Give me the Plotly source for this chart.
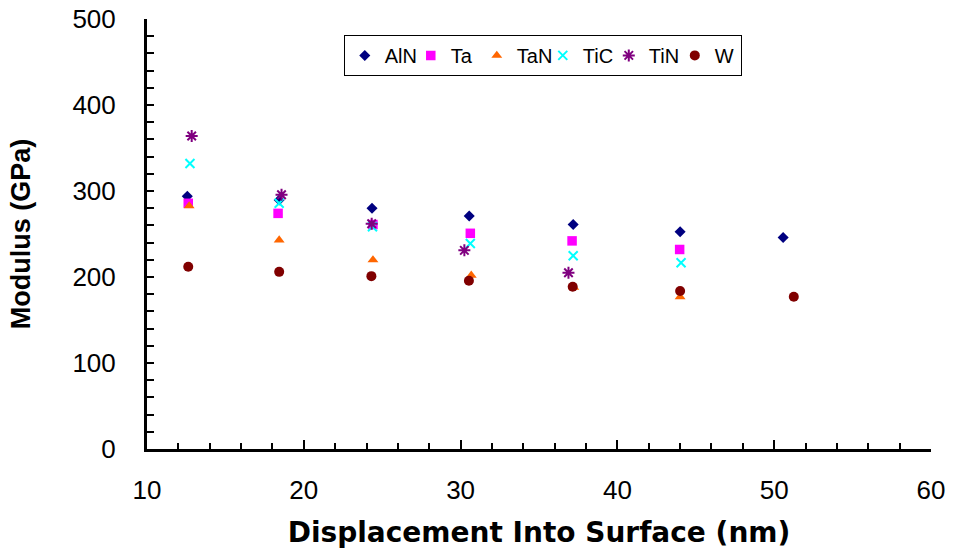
import plotly.graph_objects as go

alN_x = [12.57, 18.43, 24.35, 30.55, 37.18, 44.0, 50.57]
alN_y = [294, 289.5, 280, 271, 261, 252.7, 246]
ta_x = [12.63, 18.36, 24.41, 30.62, 37.11, 43.97]
ta_y = [285.7, 274, 261, 250.8, 242, 232]
taN_x = [12.69, 18.43, 24.41, 30.68, 37.22, 44.0]
taN_y = [282.6, 243, 219.8, 202, 188, 177]
tiC_x = [12.74, 18.43, 24.38, 30.62, 37.18, 44.06]
tiC_y = [332, 285.7, 258.5, 239, 224.8, 216.6]
tiN_x = [12.85, 18.58, 24.33, 30.24, 36.88]
tiN_y = [364, 295.7, 262, 231, 205]
w_x = [12.63, 18.43, 24.31, 30.53, 37.15, 44.0, 51.25]
w_y = [212, 206, 201, 195.7, 188.7, 183.7, 177]

series = [
    ("AlN", alN_x, alN_y, "diamond", "#000080", 8.5, None),
    ("Ta", ta_x, ta_y, "square", "#FF00FF", 9.5, None),
    ("TaN", taN_x, taN_y, "triangle-up", "#FF6600", 9.5, None),
    ("TiC", tiC_x, tiC_y, "x-thin-open", "#00FFFF", 9, 2),
    ("TiN", tiN_x, tiN_y, "asterisk-open", "#800080", 10, 2),
    ("W", w_x, w_y, "circle", "#800000", 10, None),
]

fig = go.Figure()
for name, xs, ys, sym, col, sz, lw in series:
    mk = dict(symbol=sym, color=col, size=sz)
    if lw:
        mk["line"] = dict(color=col, width=lw)
    else:
        mk["line"] = dict(width=0)
    fig.add_trace(go.Scatter(x=xs, y=ys, mode="markers", name=name, marker=mk))

fig.update_layout(
    width=953, height=554,
    margin=dict(l=147, r=22, t=19, b=105),
    paper_bgcolor="white", plot_bgcolor="white",
    font=dict(family="Liberation Sans, Arial", color="black"),
    showlegend=True,
    legend=dict(orientation="h", x=0.251, y=0.963, xanchor="left", yanchor="top",
                bordercolor="black", borderwidth=1, bgcolor="white",
                font=dict(size=20), itemwidth=30, tracegroupgap=0,
                entrywidth=21, entrywidthmode="pixels"),
    xaxis=dict(range=[10, 60], dtick=10, showline=True, linecolor="black", linewidth=3,
               ticks="inside", ticklen=9, tickwidth=2, tickcolor="black",
               minor=dict(dtick=2, ticks="inside", ticklen=6, tickwidth=2, tickcolor="black"),
               showgrid=False, zeroline=False, automargin=False,
               tickfont=dict(size=26), ticklabelstandoff=16,
               title=dict(text="<b>Displacement Into Surface (nm)</b>",
                          font=dict(size=28, family="DejaVu Sans"), standoff=19)),
    yaxis=dict(range=[0, 500], dtick=100, showline=True, linecolor="black", linewidth=3,
               ticks="inside", ticklen=7, tickwidth=2, tickcolor="black",
               minor=dict(dtick=20, ticks="inside", ticklen=7, tickwidth=2, tickcolor="black"),
               showgrid=False, zeroline=False, automargin=False,
               tickfont=dict(size=26), ticklabelstandoff=23,
               title=dict(text="<b>Modulus (GPa)</b>", font=dict(size=27), standoff=34)),
)

fig.write_html("out.html", config={"displayModeBar": False},
               post_script="document.body.style.margin='0px';")
